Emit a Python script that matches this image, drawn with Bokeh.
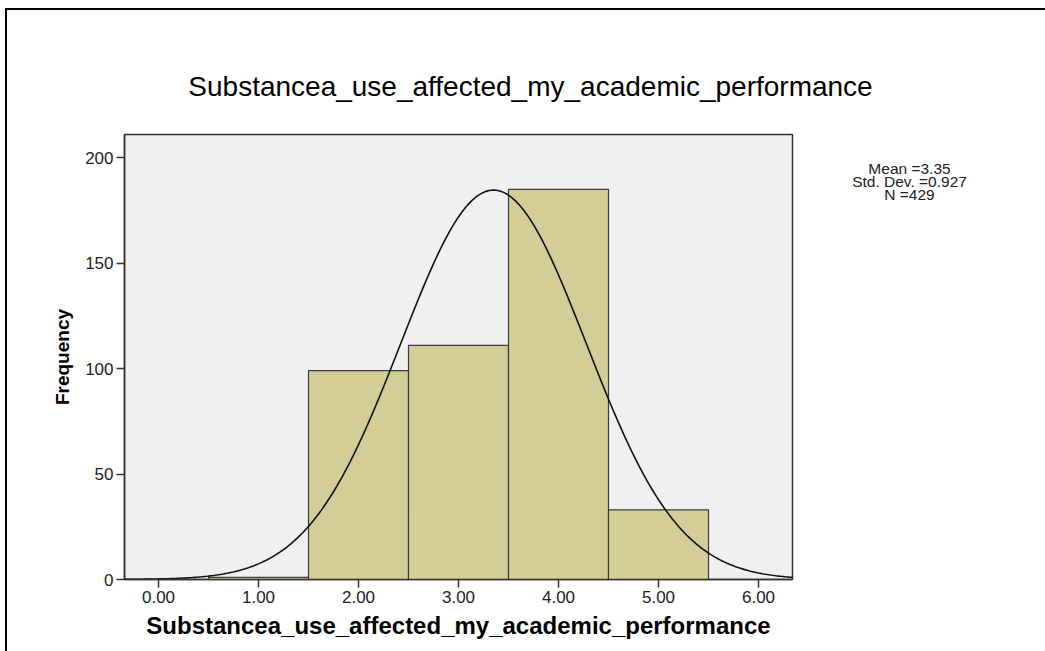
import numpy as np
from bokeh.plotting import figure
from bokeh.layouts import row, column
from bokeh.models import Label, FixedTicker, CustomJSTickFormatter, Range1d
from bokeh.embed import file_html
from bokeh.resources import INLINE

# ---- data ----
bin_centers = [1, 2, 3, 4, 5]
frequencies = [1, 99, 111, 185, 33]
x_ticks = [0, 1, 2, 3, 4, 5, 6]
y_ticks = [0, 50, 100, 150, 200]
mean_val = 3.35
std_val = 0.927
n_val = 429
var_name = "Substancea_use_affected_my_academic_performance"
stats_lines = ["Mean =3.35", "Std. Dev. =0.927", "N =429"]

OX, OY = 7, 10      # canvas origin on page (after css border)
TOP_H = 110         # height of the title strip
SPLIT = 800         # page x where the side panel starts
W_ALL = 1045 - OX
W1 = SPLIT - OX
W2 = 1045 - SPLIT
Y0 = OY + TOP_H     # page y where the chart row starts
H = 651 - Y0
FONT = "Liberation Sans"


def blank(width, height, xr, yr):
    f = figure(width=width, height=height, output_backend="svg", toolbar_location=None,
               x_range=xr, y_range=yr, x_axis_type=None, y_axis_type=None,
               min_border_left=0, min_border_right=0, min_border_top=0, min_border_bottom=0)
    f.outline_line_color = None
    f.background_fill_color = "white"
    f.border_fill_color = "white"
    f.xgrid.visible = False
    f.ygrid.visible = False
    return f


# title strip
p0 = blank(W_ALL, TOP_H, Range1d(OX, 1045), Range1d(Y0, OY))
p0.add_layout(Label(x=530, y=86, text=var_name, text_font=FONT, text_font_size="28px",
                    text_align="center", text_baseline="middle", text_color="black"))

# main histogram
p = figure(width=W1, height=H, output_backend="svg", toolbar_location=None,
           x_range=Range1d(-0.34, 6.34), y_range=Range1d(0, 211),
           min_border_left=124 - OX, min_border_right=SPLIT - 792,
           min_border_top=134 - Y0, min_border_bottom=651 - 579)
p.background_fill_color = "#f0f0f0"
p.border_fill_color = "white"
p.outline_line_color = "#333333"
p.outline_line_width = 1.5
p.xgrid.visible = False
p.ygrid.visible = False

left = [c - 0.5 for c in bin_centers]
right = [c + 0.5 for c in bin_centers]
p.quad(left=left, right=right, bottom=0, top=frequencies,
       fill_color="#d3ce97", line_color="#3a3a3a", line_width=1.2)

xs = np.linspace(-0.34, 6.34, 400)
binw = 1.0
ys = n_val * binw / (std_val * np.sqrt(2 * np.pi)) * np.exp(-0.5 * ((xs - mean_val) / std_val) ** 2)
p.line(xs, ys, line_color="#111111", line_width=1.6)

for ax in (p.xaxis[0], p.yaxis[0]):
    ax.axis_line_color = "#333333"
    ax.axis_line_width = 1.5
    ax.major_tick_line_color = "#333333"
    ax.major_tick_line_width = 1.5
    ax.major_tick_in = 0
    ax.major_tick_out = 8
    ax.minor_tick_line_color = None
    ax.major_label_text_font = FONT
    ax.major_label_text_font_size = "17px"
    ax.major_label_text_color = "#222222"
    ax.major_label_standoff = 3
    ax.axis_label_text_font = FONT
    ax.axis_label_text_font_style = "bold"
    ax.axis_label_text_color = "black"

p.xaxis.ticker = FixedTicker(ticks=x_ticks)
p.yaxis.ticker = FixedTicker(ticks=y_ticks)
p.xaxis.formatter = CustomJSTickFormatter(code="return tick.toFixed(2);")
p.xaxis.axis_label = var_name
p.xaxis.axis_label_text_font_size = "24px"
p.xaxis.axis_label_standoff = 6
p.yaxis.axis_label = "Frequency"
p.yaxis.axis_label_text_font_size = "19px"
p.yaxis.axis_label_standoff = 9

# side panel for the statistics box (its frame lines up with the chart frame: y 134..579)
p2 = blank(W2, H, Range1d(SPLIT, 1045), Range1d(579, 134))
for i, s in enumerate(stats_lines):
    p2.add_layout(Label(x=909, y=168 + 12.8 * i,
                        text=s, text_font=FONT, text_font_size="15.5px",
                        text_align="center", text_baseline="middle", text_color="#222222"))

layout = column(p0, row(p, p2, spacing=0), spacing=0)
layout.styles = {"border-left": "2px solid #000", "border-top": "2px solid #000",
                 "margin-left": "5px", "margin-top": "8px"}

open("out.html", "w").write(file_html(layout, INLINE))
